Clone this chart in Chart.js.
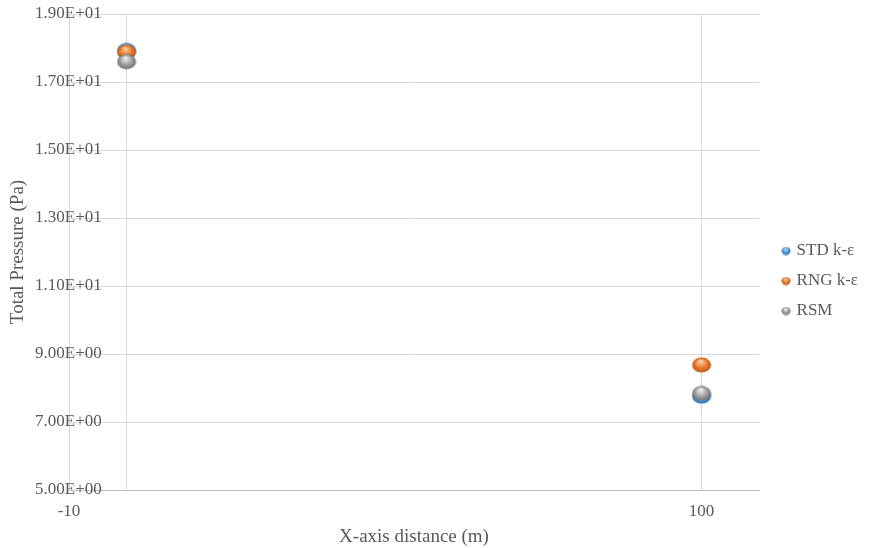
<!DOCTYPE html>
<html>
<head>
<meta charset="utf-8">
<script src="https://cdn.jsdelivr.net/npm/chart.js@4.4.0/dist/chart.umd.min.js"></script>
<style>
  html, body { margin: 0; padding: 0; background: #fff; }
  #wrap { width: 894px; height: 548px; }
</style>
</head>
<body>
<div id="wrap"><canvas id="chart"></canvas></div>
<script>
const seriesNames = ["STD k-ε", "RNG k-ε", "RSM"];
const xValues = [0, 100];
const stdValues = [17.93, 7.76];
const rngValues = [17.88, 8.68];
const rsmValues = [17.60, 7.84];

const yTickValues = [5, 7, 9, 11, 13, 15, 17, 19];
const yTickLabels = ["5.00E+00", "7.00E+00", "9.00E+00", "1.10E+01", "1.30E+01", "1.50E+01", "1.70E+01", "1.90E+01"];
const xTickValues = [-10, 0, 100];
const xTickLabels = ["-10", "", "100"];

const serif = "'Liberation Serif', 'Times New Roman', serif";
const textGray = "#595959";

// little 3d balls like the excel markers
function makeBall(w, h, light, base, dark) {
  const c = document.createElement("canvas");
  c.width = w;
  c.height = h;
  const g = c.getContext("2d");
  const r = w / 2 - 0.5;
  g.translate(w / 2, h / 2);
  g.scale(1, h / w);
  const grad = g.createRadialGradient(-r * 0.1, -r * 0.5, r * 0.1, 0, 0, r);
  grad.addColorStop(0, light);
  grad.addColorStop(0.55, base);
  grad.addColorStop(1, dark);
  g.fillStyle = grad;
  g.beginPath();
  g.arc(0, 0, r, 0, Math.PI * 2);
  g.fill();
  return c;
}

const palette = [
  ["#bcd7f0", "#5b9bd5", "#2e75b6"],
  ["#f8c9a4", "#ed7d31", "#b9560f"],
  ["#eeeeee", "#a5a5a5", "#6f6f6f"]
];
const chartBalls = palette.map(p => makeBall(20, 16, p[0], p[1], p[2]));
const legendBalls = palette.map(p => makeBall(10, 9, p[0], p[1], p[2]));

function toPoints(vals) {
  return xValues.map((x, i) => ({ x: x, y: vals[i] }));
}

// nudge the legend sideways so it sits where excel put it
const legendShift = {
  id: "legendShift",
  afterLayout(chart) {
    const lg = chart.legend;
    lg.left += 12; lg.right += 12;
  }
};

new Chart(document.getElementById("chart"), {
  type: "scatter",
  data: {
    datasets: [
      { label: seriesNames[0], data: toPoints(stdValues), pointStyle: chartBalls[0], pointRadius: 10, order: 3 },
      { label: seriesNames[1], data: toPoints(rngValues), pointStyle: chartBalls[1], pointRadius: 10, order: 2 },
      { label: seriesNames[2], data: toPoints(rsmValues), pointStyle: chartBalls[2], pointRadius: 10, order: 1 }
    ]
  },
  options: {
    responsive: true,
    maintainAspectRatio: false,
    animation: false,
    layout: { padding: { left: 4, top: 14, right: 38, bottom: 0 } },
    scales: {
      x: {
        type: "linear",
        min: -10,
        max: 110,
        afterBuildTicks: s => { s.ticks = xTickValues.map(v => ({ value: v })); },
        afterFit: s => { s.height = 58; },
        ticks: {
          autoSkip: false,
          maxRotation: 0,
          padding: 11,
          color: textGray,
          font: { family: serif, size: 17 },
          callback: (v, i) => xTickLabels[i]
        },
        grid: { color: "#d9d9d9", drawTicks: false },
        border: { color: "#bfbfbf" },
        title: {
          display: true,
          text: "X-axis distance (m)",
          color: textGray,
          font: { family: serif, size: 19 },
          padding: { top: 0, bottom: 0 }
        }
      },
      y: {
        min: 5,
        max: 19,
        afterBuildTicks: s => { s.ticks = yTickValues.map(v => ({ value: v })); },
        afterFit: s => { s.width = 65; },
        ticks: {
          mirror: true,
          padding: -34,
          color: textGray,
          font: { family: serif, size: 17 },
          callback: (v, i) => yTickLabels[i]
        },
        grid: { color: "#d9d9d9", drawTicks: false },
        border: { color: "#d9d9d9" },
        title: {
          display: true,
          text: "Total Pressure (Pa)",
          color: textGray,
          font: { family: serif, size: 19 },
          padding: { top: 3, bottom: 0 }
        }
      }
    },
    plugins: {
      tooltip: { enabled: false },
      legend: {
        position: "right",
        align: "center",
        labels: {
          usePointStyle: true,
          pointStyleWidth: 4,
          padding: 13,
          color: textGray,
          font: { family: serif, size: 17 },
          generateLabels: chart => chart.data.datasets.map((ds, i) => ({
            text: ds.label,
            pointStyle: legendBalls[i],
            fillStyle: palette[i][1],
            strokeStyle: "transparent",
            lineWidth: 0,
            fontColor: textGray,
            hidden: false,
            datasetIndex: i
          }))
        }
      }
    }
  },
  plugins: [legendShift]
});
</script>
</body>
</html>
